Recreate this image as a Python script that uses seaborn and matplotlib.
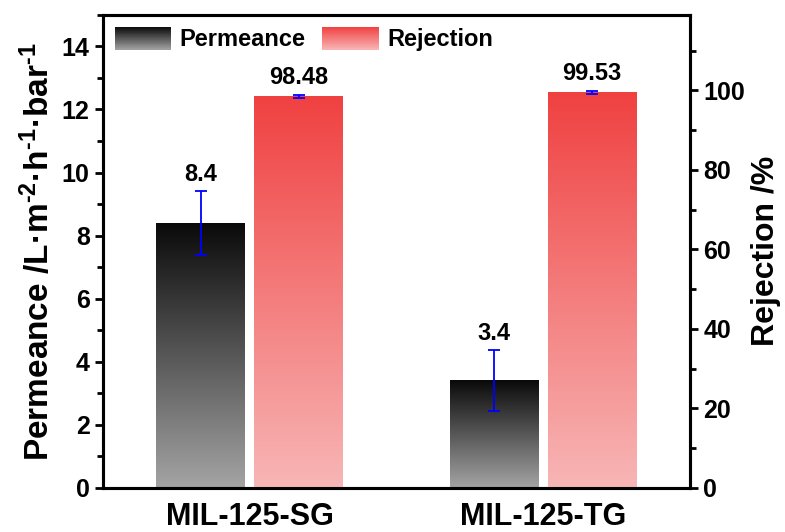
import numpy as np
import pandas as pd
import matplotlib
matplotlib.use("Agg")
import matplotlib.pyplot as plt
import seaborn as sns
from matplotlib.colors import LinearSegmentedColormap
from matplotlib.legend_handler import HandlerBase
from matplotlib.patches import Rectangle
from matplotlib.ticker import MultipleLocator

samples = ["MIL-125-SG", "MIL-125-TG"]
permeance = [8.4, 3.4]
permeance_err = [1.0, 0.97]
rejection = [98.48, 99.53]
rejection_err = [0.45, 0.4]

sns.set_theme(style="ticks", rc={"axes.edgecolor": "black", "text.color": "black",
                                 "axes.labelcolor": "black", "xtick.color": "black",
                                 "ytick.color": "black"})
plt.rcParams["font.family"] = ["Liberation Sans", "DejaVu Sans"]
plt.rcParams["font.weight"] = "bold"
plt.rcParams["mathtext.fontset"] = "custom"
plt.rcParams["mathtext.rm"] = "Liberation Sans:bold"
plt.rcParams["mathtext.default"] = "rm"

gray_cmap = LinearSegmentedColormap.from_list("grayg", ["#a4a4a4", "#0a0a0a"])
red_cmap = LinearSegmentedColormap.from_list("redg", ["#f8b6b6", "#f04141"])

order = ["Permeance", "Rejection"]
df = pd.DataFrame({
    "sample": samples * 2,
    "metric": ["Permeance"] * 2 + ["Rejection"] * 2,
    "value": permeance + rejection,
})
pal = {"Permeance": "#555555", "Rejection": "#f47a7a"}

fig, ax = plt.subplots(figsize=(7.85, 5.32), dpi=100)
fig.subplots_adjust(left=0.131, right=0.879, top=0.972, bottom=0.083)
ax2 = ax.twinx()

sns.barplot(data=df[df.metric == "Permeance"], x="sample", y="value", hue="metric",
            hue_order=order, palette=pal, width=0.666, gap=0.09, dodge=True,
            errorbar=None, legend=False, ax=ax)
sns.barplot(data=df[df.metric == "Rejection"], x="sample", y="value", hue="metric",
            hue_order=order, palette=pal, width=0.666, gap=0.09, dodge=True,
            errorbar=None, legend=False, ax=ax2)

grad = np.linspace(0, 1, 256).reshape(-1, 1)


def shade(axis, cmap, vals, errs):
    xs = []
    for p in list(axis.patches):
        x0, w, h = p.get_x(), p.get_width(), p.get_height()
        axis.imshow(grad, extent=[x0, x0 + w, 0, h], origin="lower", aspect="auto",
                    cmap=cmap, zorder=2)
        p.set_visible(False)
        xs.append(x0 + w / 2)
    axis.errorbar(xs, vals, yerr=errs, fmt="none", ecolor="blue", elinewidth=1.3,
                  capsize=4.5, capthick=1.3, zorder=3)
    for x, v, e in zip(xs, vals, errs):
        axis.annotate(str(v), (x, v + e), xytext=(0, 4), textcoords="offset points",
                      ha="center", va="bottom", fontsize=17, fontweight="bold")


shade(ax, gray_cmap, permeance, permeance_err)
shade(ax2, red_cmap, rejection, rejection_err)

ax.set_xlim(-0.5, 1.5)
ax.set_ylim(0, 15)
ax2.set_ylim(0, 119)
ax.yaxis.set_major_locator(MultipleLocator(2))
ax.yaxis.set_minor_locator(MultipleLocator(1))
ax2.yaxis.set_major_locator(MultipleLocator(20))
ax2.yaxis.set_minor_locator(MultipleLocator(10))
ax.set_yticks(np.arange(0, 15, 2))
ax2.set_yticks(np.arange(0, 101, 20))

for a in (ax, ax2):
    for s in a.spines.values():
        s.set_linewidth(2.2)
        s.set_visible(True)
    a.tick_params(axis="y", which="major", direction="out", length=6, width=2, labelsize=18)
    a.tick_params(axis="y", which="minor", direction="out", length=4, width=2)
    a.tick_params(axis="x", length=0, labelsize=22, pad=10)
    a.set_xlabel("")

ax.set_ylabel("Permeance /L·m$^{\u2010 2}$·h$^{\u2010 1}$·bar$^{\u2010 1}$",
              fontsize=24, fontweight="bold")
ax2.set_ylabel("Rejection /%", fontsize=23, fontweight="bold")
for lab in ax.get_xticklabels() + ax.get_yticklabels() + ax2.get_yticklabels():
    lab.set_fontweight("bold")


class GradientHandler(HandlerBase):
    def __init__(self, cmap):
        super().__init__()
        self.cmap = cmap

    def create_artists(self, legend, orig_handle, xdescent, ydescent, width, height,
                       fontsize, trans):
        n = 40
        arts = []
        for i in range(n):
            arts.append(Rectangle((-xdescent, -ydescent + height * i / n), width,
                                  height / n * 1.05, facecolor=self.cmap(i / (n - 1)),
                                  edgecolor="none", transform=trans))
        return arts


h1 = Rectangle((0, 0), 1, 1)
h2 = Rectangle((0, 0), 1, 1)
ax2.legend([h1, h2], order, handler_map={h1: GradientHandler(gray_cmap),
                                         h2: GradientHandler(red_cmap)},
           loc="upper left", ncol=2, frameon=False,
           handlelength=2.4, handleheight=1.15, handletextpad=0.35,
           columnspacing=0.7, borderaxespad=0.1, prop={"weight": "bold", "size": 17})

fig.savefig("out.png", dpi=100)
